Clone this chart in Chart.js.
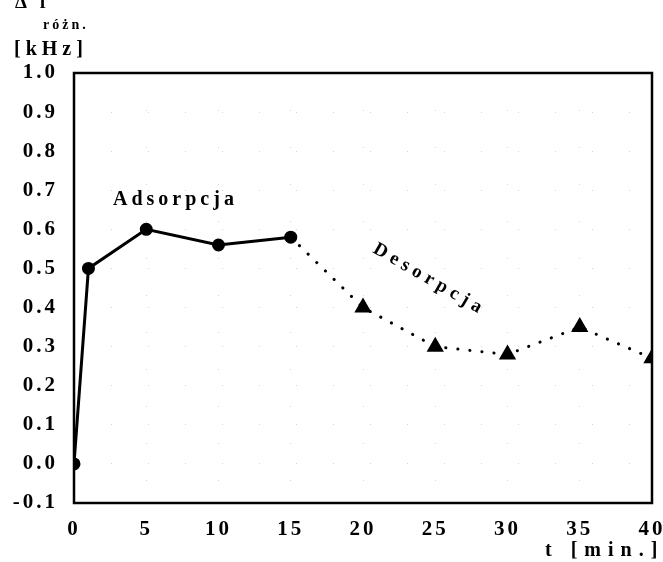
<!DOCTYPE html>
<html>
<head>
<meta charset="utf-8">
<script src="https://cdn.jsdelivr.net/npm/chart.js@4.4.0/dist/chart.umd.min.js"></script>
<style>
  html, body { margin: 0; padding: 0; background: #fff; }
  #wrap { width: 663px; height: 562px; }
</style>
</head>
<body>
<div id="wrap"><canvas id="wykres"></canvas></div>
<script>
// dane
const czasAdsorpcja = [0, 1, 5, 10, 15];
const wartAdsorpcja = [0.0, 0.50, 0.60, 0.56, 0.58];
const czasDesorpcja = [15, 20, 25, 30, 35, 40];
const wartDesorpcja = [0.58, 0.40, 0.30, 0.28, 0.35, 0.27];
const yMin = -0.1, yMax = 1.0, xMin = 0, xMax = 40;

const FONT = '"Liberation Serif", "Times New Roman", serif';

// napisy na wykresie + ramka
const napisy = {
    id: 'napisy',
    beforeDraw(chart) {
        chart.ctx.letterSpacing = '3px';
    },
    afterDraw(chart) {
        const ctx = chart.ctx;
        const a = chart.chartArea;
        ctx.save();
        ctx.strokeStyle = '#000';
        ctx.lineWidth = 2.5;
        ctx.strokeRect(a.left, a.top, a.right - a.left, a.bottom - a.top);

        ctx.fillStyle = '#000';
        ctx.textBaseline = 'alphabetic';
        ctx.letterSpacing = '4px';
        ctx.font = 'bold 19px ' + FONT;
        ctx.fillText('Δ f', 15, 8);
        ctx.font = 'bold 14px ' + FONT;
        ctx.letterSpacing = '3px';
        ctx.fillText('różn.', 43, 29);
        ctx.font = 'bold 20px ' + FONT;
        ctx.letterSpacing = '5px';
        ctx.fillText('[kHz]', 14, 55);

        ctx.font = 'bold 20px ' + FONT;
        ctx.letterSpacing = '4px';
        ctx.fillText('Adsorpcja', 113, 205);

        ctx.save();
        ctx.translate(372, 252);
        ctx.rotate(30 * Math.PI / 180);
        ctx.letterSpacing = '5px';
        ctx.font = 'bold 19px ' + FONT;
        ctx.fillText('Desorpcja', 0, 0);
        ctx.restore();

        ctx.font = 'bold 20px ' + FONT;
        ctx.letterSpacing = '7px';
        ctx.textAlign = 'left';
        ctx.fillText('t [min.]', 545, 556);
        ctx.restore();
    }
};

new Chart(document.getElementById('wykres'), {
    type: 'line',
    data: {
        datasets: [{
            label: 'Adsorpcja',
            data: czasAdsorpcja.map((t, i) => ({ x: t, y: wartAdsorpcja[i] })),
            borderColor: '#000',
            backgroundColor: '#000',
            borderWidth: 3,
            pointStyle: 'circle',
            pointRadius: 5,
            tension: 0
        }, {
            label: 'Desorpcja',
            data: czasDesorpcja.map((t, i) => ({ x: t, y: wartDesorpcja[i] })),
            borderColor: '#000',
            backgroundColor: '#000',
            borderWidth: 3,
            borderDash: [0.1, 12],
            borderCapStyle: 'round',
            pointStyle: 'triangle',
            pointRadius: czasDesorpcja.map((t, i) => i === 0 ? 0 : 7),
            tension: 0
        }]
    },
    options: {
        responsive: true,
        maintainAspectRatio: false,
        animation: false,
        layout: { padding: { top: 73, right: 11, bottom: 0, left: 0 } },
        plugins: { legend: { display: false }, tooltip: { enabled: false } },
        scales: {
            x: {
                type: 'linear',
                min: xMin, max: xMax,
                afterFit(s) { s.height = 59; s.paddingRight = 0; s.paddingLeft = 0; },
                ticks: { stepSize: 5, color: '#000', padding: 14, font: { family: FONT, size: 21, weight: 'bold' } },
                grid: { color: '#d4d4d4', lineWidth: 1, drawTicks: false },
                border: { display: false, dash: [1, 36] }
            },
            y: {
                min: yMin, max: yMax,
                afterFit(s) { s.width = 74; s.paddingTop = 0; s.paddingBottom = 0; },
                ticks: {
                    stepSize: 0.1, color: '#000', padding: 16,
                    font: { family: FONT, size: 21, weight: 'bold' },
                    callback: v => v.toFixed(1)
                },
                grid: { color: '#d4d4d4', lineWidth: 1, drawTicks: false },
                border: { display: false, dash: [1, 36] }
            }
        }
    },
    plugins: [napisy]
});
</script>
</body>
</html>
